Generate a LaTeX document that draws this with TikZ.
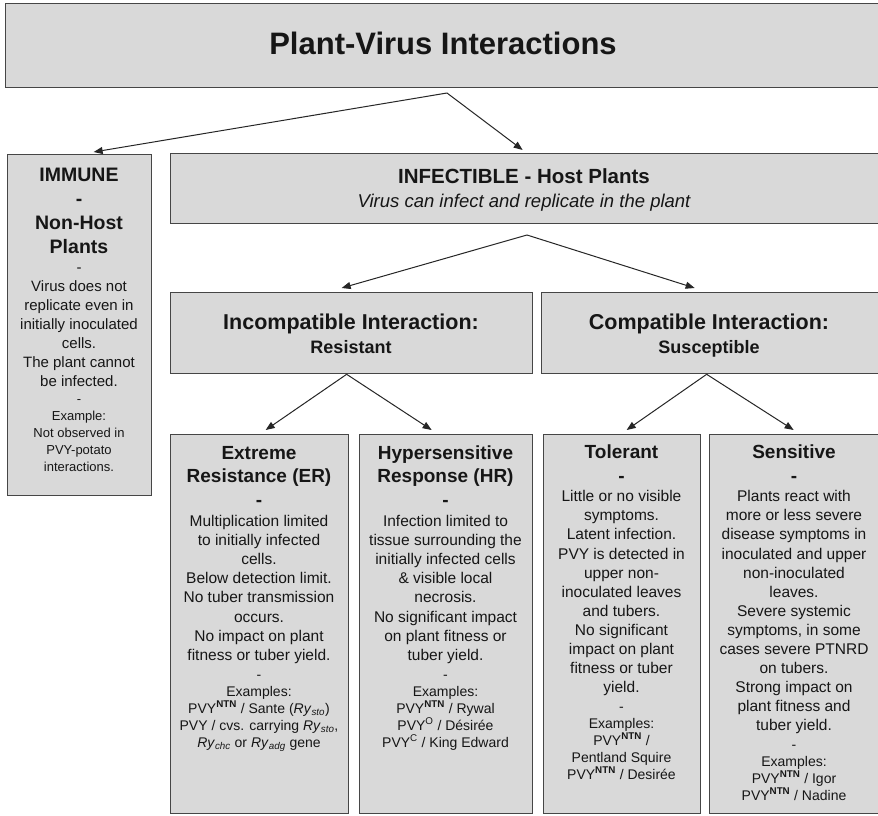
\documentclass[tikz,border=0pt]{standalone}
\usepackage{fontspec}
\setmainfont{Liberation Sans}
\usetikzlibrary{arrows.meta}
\definecolor{boxfill}{RGB}{217,217,217}
\definecolor{boxline}{RGB}{70,70,70}
\definecolor{txt}{RGB}{22,22,22}
\newcommand{\ntn}{PVY\textsuperscript{\textbf{NTN}}}
\newcommand{\ry}[1]{\textit{Ry}\textsubscript{\textit{#1}}}
\newcommand{\fsz}[2]{\fontsize{#1}{#2}\selectfont}
\tikzset{
  box/.style={draw=boxline, fill=boxfill, line width=1.3pt, rectangle, inner sep=0pt, anchor=north west},
  txtblock/.style={anchor=base, align=center, inner sep=0pt, text=txt},
  headA/.style={txtblock, font={\bfseries\fsz{19}{23.5}}},
  bodyA/.style={txtblock, font={\fsz{15.5}{19.2}}},
  smallA/.style={txtblock, font={\fsz{14}{17}}},
  conn/.style={draw=black!85, line width=1pt, -{Triangle[length=9pt,width=7pt]}},
}
\begin{document}
\begin{tikzpicture}[x=1pt,y=-1pt]
\fill[white] (0,0) rectangle (878,816);
\useasboundingbox (0,0) rectangle (878,816);

% boxes
\node[box, minimum width=877pt, minimum height=84pt] (title) at (5,3) {};
\node[box, minimum width=144pt, minimum height=341pt] (immune) at (7,154) {};
\node[box, minimum width=712pt, minimum height=70pt] (infect) at (170,153) {};
\node[box, minimum width=362pt, minimum height=81pt] (incomp) at (170,292) {};
\node[box, minimum width=341pt, minimum height=81pt] (comp) at (541,292) {};
\node[box, minimum width=178pt, minimum height=379pt] (er) at (170,434) {};
\node[box, minimum width=173pt, minimum height=379pt] (hr) at (359,434) {};
\node[box, minimum width=157pt, minimum height=379pt] (tol) at (543,434) {};
\node[box, minimum width=173pt, minimum height=379pt] (sens) at (709,434) {};

% title
\node[txtblock, font={\bfseries\fsz{31}{36}}] (ttlt) at (443,55) {Plant-Virus Interactions};

% infectible
\node[txtblock, font={\bfseries\fsz{20.5}{24}}] (inft1) at (524,183) {INFECTIBLE - Host Plants};
\node[txtblock, font={\itshape\fsz{18.5}{22}}] (inft2) at (524,207) {Virus can infect and replicate in the plant};

% incompatible / compatible
\node[txtblock, font={\bfseries\fsz{21.5}{24}}] (inct1) at (351,329) {Incompatible Interaction:};
\node[txtblock, font={\bfseries\fsz{18}{22}}] (inct2) at (351,353) {Resistant};
\node[txtblock, font={\bfseries\fsz{21.5}{24}}] (comt1) at (709,329) {Compatible Interaction:};
\node[txtblock, font={\bfseries\fsz{18}{22}}] (comt2) at (709,353) {Susceptible};

% immune (anchor = baseline of the last line)
\node[txtblock, font={\bfseries\fsz{19.5}{24}}] (imm1) at (79,253) {IMMUNE\\-\\Non-Host\\Plants};
\node[txtblock, font={\fsz{15}{19}}] (imm2) at (79,386) {-\\Virus does not\\replicate even in\\initially inoculated\\cells.\\The plant cannot\\be infected.};
\node[txtblock, font={\fsz{13}{17}}] (imm3) at (79,471) {-\\Example:\\Not observed in\\PVY-potato\\interactions.};

% extreme resistance
\node[headA] (er1) at (259,506) {Extreme\\Resistance (ER)\\-};
\node[bodyA] (er2) at (259,660.4) {Multiplication limited\\to initially infected\\cells.\\Below detection limit.\\No tuber transmission\\occurs.\\No impact on plant\\fitness or tuber yield.};
\node[smallA] (er3) at (259,747) {-\\Examples:\\\ntn{} / Sante (\ry{sto})\\PVY / cvs. carrying \ry{sto},\\\ry{chc} or \ry{adg} gene};

% hypersensitive
\node[headA] (hr1) at (445.5,506) {Hypersensitive\\Response (HR)\\-};
\node[bodyA] (hr2) at (445.5,660.4) {Infection limited to\\tissue surrounding the\\initially infected cells\\\& visible local\\necrosis.\\No significant impact\\on plant fitness or\\tuber yield.};
\node[smallA] (hr3) at (445.5,747) {-\\Examples:\\\ntn{} / Rywal\\PVY\textsuperscript{O} / Désirée\\PVY\textsuperscript{C} / King Edward};

% tolerant
\node[txtblock, font={\bfseries\fsz{19}{24}}] (tol1) at (621.5,482.5) {Tolerant\\-};
\node[txtblock, font={\fsz{15.5}{19.1}}] (tol2) at (621.5,692.7) {Little or no visible\\symptoms.\\Latent infection.\\PVY is detected in\\upper non-\\inoculated leaves\\and tubers.\\No significant\\impact on plant\\fitness or tuber\\yield.};
\node[smallA] (tol3) at (621.5,779) {-\\Examples:\\\ntn{} /\\Pentland Squire\\\ntn{} / Desirée};

% sensitive
\node[txtblock, font={\bfseries\fsz{19}{24}}] (sen1) at (794,482.5) {Sensitive\\-};
\node[txtblock, font={\fsz{15.5}{19.1}}] (sen2) at (794,730.9) {Plants react with\\more or less severe\\disease symptoms in\\inoculated and upper\\non-inoculated\\leaves.\\Severe systemic\\symptoms, in some\\cases severe PTNRD\\on tubers.\\Strong impact on\\plant fitness and\\tuber yield.};
\node[smallA] (sen3) at (794,800) {-\\Examples:\\\ntn{} / Igor\\\ntn{} / Nadine};

% connectors
\coordinate (a1) at (447,93);
\coordinate (a2) at (527,235);
\draw[conn] (a1) -- ([xshift=14pt,yshift=2pt]immune.north);
\draw[conn] (a1) -- ([xshift=-4pt,yshift=3pt]infect.north);
\draw[conn] (a2) -- ([xshift=-10pt,yshift=4pt]incomp.north);
\draw[conn] (a2) -- ([xshift=-17.5pt,yshift=4pt]comp.north);
\draw[conn] ([xshift=-5pt]incomp.south) -- ([xshift=6pt,yshift=4pt]er.north);
\draw[conn] ([xshift=-5pt]incomp.south) -- ([xshift=-14.5pt,yshift=4pt]hr.north);
\draw[conn] ([xshift=-5.5pt]comp.south) -- ([xshift=4.5pt,yshift=4pt]tol.north);
\draw[conn] ([xshift=-5.5pt]comp.south) -- ([xshift=-2.5pt,yshift=4pt]sens.north);
\end{tikzpicture}
\end{document}
